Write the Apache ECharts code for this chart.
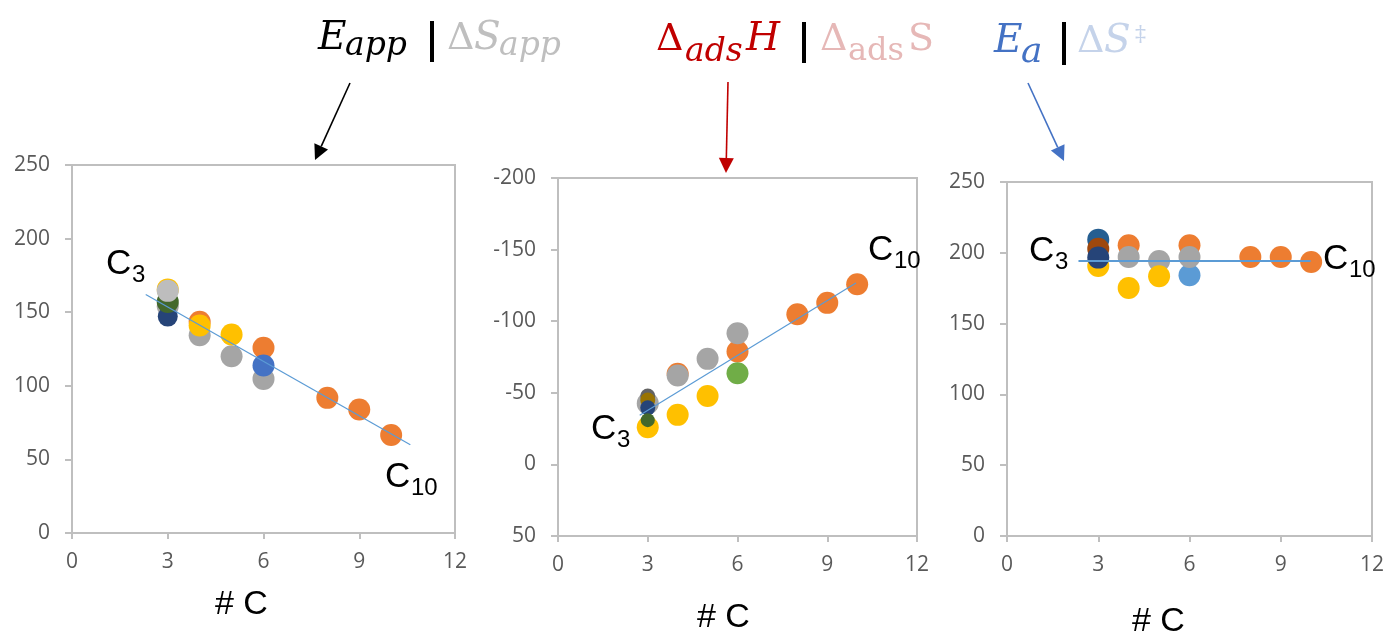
<!DOCTYPE html>
<html>
<head>
<meta charset="utf-8">
<script src="https://cdn.jsdelivr.net/npm/echarts@6/dist/echarts.min.js"></script>
<style>
html,body{margin:0;padding:0;background:#fff;}
#chart{width:1383px;height:637px;}
</style>
</head>
<body>
<div id="chart"></div>
<script>
// ---- data ----
const xRange = [0, 12, 3];           // min, max, interval for all "# C" axes
const y1Range = [0, 250, 50];
const y2Range = [-200, 50, 50];      // drawn inverted (-200 at top)
const y3Range = [0, 250, 50];

// Panel 1: E_app
const p1Grey      = [[3,154],[4,134.4],[5,120.1],[6,104.7]];
const p1Orange    = [[4,143.5],[6,125.8],[8,91.8],[9,83.9],[10,66.6]];
const p1Navy      = [[3,147]];
const p1Yellow    = [[3,165.5],[4,141],[5,134.9]];
const p1DarkGreen = [[3,157]];
const p1Blue      = [[6,113.8]];
const p1LightGrey = [[3,164.5]];
const p1Trend     = [[2.31,162],[10.6,60]];

// Panel 2: Δads H
const p2Yellow     = [[3,-26],[4,-34.6],[5,-47.7]];
const p2Orange     = [[4,-63.3],[6,-78.8],[8,-104.9],[9,-112.8],[10,-125.8]];
const p2Grey       = [[3,-42.6],[4,-62.1],[5,-73.7],[6,-91.6]];
const p2Green      = [[6,-63.7]];
const p2DarkGrey   = [[3,-47.7]];
const p2DarkYellow = [[3,-44.9]];
const p2Navy       = [[3,-39.5]];
const p2DarkGreen  = [[3,-30.9]];
const p2Trend      = [[2.73,-34.4],[9.96,-126.7]];

// Panel 3: E_a
const p3Orange    = [[4,205.3],[6,205.3],[8,197],[9,197],[10,193.5]];
const p3LightBlue = [[6,184.1]];
const p3Grey      = [[4,197],[5,194.2],[6,197]];
const p3Yellow    = [[3,190.7],[4,175.1],[5,183.4]];
const p3SteelBlue = [[3,209.3]];
const p3Brown     = [[3,202.9]];
const p3Navy      = [[3,196.6]];
const p3Trend     = [[2.35,194.2],[9.98,194.2]];

// ---- styling ----
const AX = '#BFBFBF';
const LBL = '#595959';
const C = {
  orange:'#ED7D31', grey:'#A5A5A5', yellow:'#FFC000', blue:'#4472C4', lightBlue:'#5B9BD5',
  green:'#70AD47', navy:'#264478', darkGreen:'#43682B', darkGrey:'#636363', darkYellow:'#997300',
  steelBlue:'#255E91', brown:'#9E480E', lightGrey:'#BDBDBD', trend:'#5B9BD5'
};

function sc(g, data, color, size) {
  return {
    type:'scatter', xAxisIndex:g, yAxisIndex:g, data:data, symbol:'circle',
    symbolSize:size || 22, itemStyle:{color:color, opacity:1}, silent:true, z:2
  };
}
function trend(g, data, w) {
  return {
    type:'line', xAxisIndex:g, yAxisIndex:g, data:data, symbol:'none', silent:true, z:5,
    lineStyle:{color:C.trend, width:w}
  };
}
function xAx(g) {
  return {
    type:'value', gridIndex:g, min:xRange[0], max:xRange[1], interval:xRange[2],
    axisLine:{show:true, onZero:false, lineStyle:{color:AX, width:2}},
    axisTick:{show:true, inside:false, length:6, lineStyle:{color:AX, width:2}},
    splitLine:{show:false},
    axisLabel:{color:LBL, fontFamily:'Open Sans', fontSize:21, margin:19}
  };
}
function yAx(g, r, inv) {
  return {
    type:'value', gridIndex:g, min:r[0], max:r[1], interval:r[2], inverse:!!inv,
    axisLine:{show:true, onZero:false, lineStyle:{color:AX, width:2}},
    axisTick:{show:true, inside:false, length:7, lineStyle:{color:AX, width:2}},
    splitLine:{show:false},
    axisLabel:{color:LBL, fontFamily:'Open Sans', fontSize:21, margin:22}
  };
}
function gridBox(l, t, w, h) {
  return {left:l, top:t, width:w, height:h, show:true, borderColor:AX, borderWidth:2,
          backgroundColor:'transparent', containLabel:false, outerBoundsMode:'none'};
}

// ---- decorations ----
const SERIF = '"DejaVu Serif"';
function txt(x, yMid, text, font, color) {
  return {type:'text', x:x, y:yMid, silent:true, z:10,
          style:{text:text, font:font, fill:color, align:'left', verticalAlign:'middle',
                 textAlign:'left', textVerticalAlign:'middle'}};
}
// baseline -> middle for text
function bl(base, size) { return base - 0.346 * size; }
function bar(x, y1, y2) {
  return {type:'line', silent:true, z:10, shape:{x1:x, y1:y1, x2:x, y2:y2},
          style:{stroke:'#000', lineWidth:4}};
}
function arrow(x1, y1, x2, y2, color) {
  const dx = x2 - x1, dy = y2 - y1, L = Math.sqrt(dx*dx + dy*dy);
  const ux = dx / L, uy = dy / L, hl = 15, hw = 7.5;
  const bx = x2 - ux*hl, by = y2 - uy*hl;
  return [
    {type:'line', silent:true, z:10, shape:{x1:x1, y1:y1, x2:bx, y2:by},
     style:{stroke:color, lineWidth:1.6}},
    {type:'polygon', silent:true, z:10,
     shape:{points:[[x2,y2],[bx - uy*hw, by + ux*hw],[bx + uy*hw, by - ux*hw]]},
     style:{fill:color}}
  ];
}
const CF = 'Liberation Sans';
function cLabel(x, capTop, sub) {
  const capBot = capTop + 25;
  return [
    txt(x, capTop + 12.5, 'C', '35px "' + CF + '"', '#000'),
    txt(x + 26, capBot - 1.5, sub, '24px "' + CF + '"', '#000')
  ];
}

const E = 'italic 39px ' + SERIF, Eu = '38px ' + SERIF;
const SUB = 'italic 33px ' + SERIF;
const graphics = [
  // Title 1: E_app | ΔS_app
  txt(318, bl(52,39), 'E', E, '#000'),
  txt(345, bl(58,33), 'app', SUB, '#000'),
  bar(432, 21, 62),
  txt(447, bl(52,38), 'Δ', Eu, '#BFBFBF'),
  txt(474, bl(52,39), 'S', E, '#BFBFBF'),
  txt(499, bl(58,33), 'app', SUB, '#BFBFBF'),
  // Title 2: Δads H | Δads S
  txt(656, bl(53,38), 'Δ', Eu, '#C00000'),
  txt(685, bl(64,33), 'ads', SUB, '#C00000'),
  txt(746, bl(53,39), 'H', E, '#C00000'),
  bar(804, 22, 63),
  txt(820, bl(53,38), 'Δ', Eu, '#E6B8B7'),
  txt(848, bl(63,32), 'ads', '32px ' + SERIF, '#E6B8B7'),
  txt(908, bl(53,38), 'S', Eu, '#E6B8B7'),
  // Title 3: E_a | ΔS‡
  txt(994, bl(55,39), 'E', E, '#4472C4'),
  txt(1021, bl(65,36), 'a', 'italic 36px ' + SERIF, '#4472C4'),
  bar(1064, 22, 65),
  txt(1077, bl(55,38), 'Δ', Eu, '#C5D3EA'),
  txt(1104, bl(55,39), 'S', E, '#C5D3EA'),
  txt(1135, 35, '‡', '22px ' + SERIF, '#C5D3EA'),
  // arrows
  ...arrow(350, 83, 315, 160, '#000'),
  ...arrow(728, 82, 726, 173, '#C00000'),
  ...arrow(1028, 83, 1064, 161, '#4472C4'),
  // C3 / C10 labels
  ...cLabel(106, 252, '3'),
  ...cLabel(385, 465, '10'),
  ...cLabel(591, 417, '3'),
  ...cLabel(868, 238, '10'),
  ...cLabel(1029, 239, '3'),
  ...cLabel(1323, 247, '10'),
  // axis names
  txt(215, 605, '# C', '34px "' + CF + '"', '#000'),
  txt(697, 618, '# C', '34px "' + CF + '"', '#000'),
  txt(1132, 622, '# C', '34px "' + CF + '"', '#000')
];

const option = {
  animation:false,
  backgroundColor:'#fff',
  grid:[
    gridBox(72, 165, 383, 368),
    gridBox(558, 178, 359, 358),
    gridBox(1007, 182, 365, 354)
  ],
  xAxis:[xAx(0), xAx(1), xAx(2)],
  yAxis:[yAx(0, y1Range), yAx(1, y2Range, true), yAx(2, y3Range)],
  series:[
    sc(0, p1Grey, C.grey), sc(0, p1Orange, C.orange), sc(0, p1Navy, C.navy, 20),
    sc(0, p1Yellow, C.yellow), sc(0, p1DarkGreen, C.darkGreen), sc(0, p1Blue, C.blue),
    sc(0, p1LightGrey, C.lightGrey), trend(0, p1Trend, 1.2),

    sc(1, p2Yellow, C.yellow), sc(1, p2Orange, C.orange), sc(1, p2Grey, C.grey),
    sc(1, p2Green, C.green), sc(1, p2DarkGrey, C.darkGrey, 15), sc(1, p2DarkYellow, C.darkYellow, 15),
    sc(1, p2Navy, C.navy, 15), sc(1, p2DarkGreen, C.darkGreen, 14), trend(1, p2Trend, 1.2),

    sc(2, p3Orange, C.orange), sc(2, p3LightBlue, C.lightBlue), sc(2, p3Grey, C.grey),
    sc(2, p3Yellow, C.yellow), sc(2, p3SteelBlue, C.steelBlue), sc(2, p3Brown, C.brown),
    sc(2, p3Navy, C.navy), trend(2, p3Trend, 2.2)
  ],
  graphic:graphics
};

const chart = echarts.init(document.getElementById('chart'), null, {renderer:'canvas'});
chart.setOption(option);
</script>
</body>
</html>
